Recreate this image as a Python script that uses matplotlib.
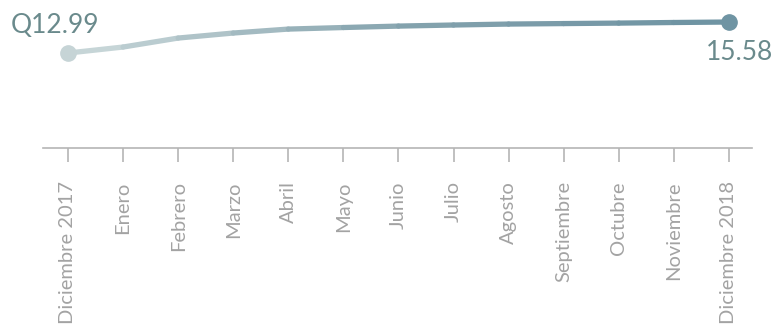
import numpy as np
import matplotlib
matplotlib.use("Agg")
import matplotlib.pyplot as plt
from matplotlib.collections import LineCollection
from matplotlib.colors import LinearSegmentedColormap

plt.rcParams['font.family'] = ['Lato', 'DejaVu Sans']

# Data
months = ["Diciembre 2017", "Enero", "Febrero", "Marzo", "Abril", "Mayo", "Junio",
          "Julio", "Agosto", "Septiembre", "Octubre", "Noviembre", "Diciembre 2018"]
values = [12.99, 13.49, 14.24, 14.66, 14.99, 15.12, 15.24,
          15.33, 15.41, 15.45, 15.49, 15.54, 15.58]
first_label = "Q12.99"
last_label = "15.58"

x = np.arange(len(months))
y = np.array(values)

fig = plt.figure(figsize=(7.76, 3.28), dpi=100)
ax = fig.add_axes([0.0554, 0.549, 0.9137, 0.451])
ax.set_xlim(-0.454, 12.42)
ax.set_ylim(5.06, 17.42)

# gradient line
cmap = LinearSegmentedColormap.from_list("g", ["#c6d5d7", "#85a3ae", "#6f94a3"])
pts = np.column_stack([x, y]).reshape(-1, 1, 2)
segs = np.concatenate([pts[:-1], pts[1:]], axis=1)
lc = LineCollection(segs, colors=cmap(np.linspace(0, 1, len(segs))),
                    linewidths=3.8, capstyle='round', joinstyle='round')
ax.add_collection(lc)
ax.plot(x[0], y[0], 'o', color="#c6d4d6", markersize=11, zorder=3)
ax.plot(x[-1], y[-1], 'o', color="#6f94a3", markersize=11, zorder=3)

ax.annotate(first_label, (x[0], y[0]), xytext=(-57, 20), textcoords='offset pixels',
            ha='left', va='baseline', fontsize=19, color="#6a8a8c")
ax.annotate(last_label, (x[-1], y[-1]), xytext=(44, -38), textcoords='offset pixels',
            ha='right', va='baseline', fontsize=19, color="#6a8a8c")

# axes styling
for s in ['top', 'left', 'right']:
    ax.spines[s].set_visible(False)
ax.spines['bottom'].set_color("#b5b5b5")
ax.spines['bottom'].set_linewidth(1.2)
ax.set_yticks([])
ax.set_xticks(x)
ax.set_xticklabels(months, rotation=90, fontsize=14.5, color="#a3a3a3")
ax.tick_params(axis='x', length=10, width=1.2, color="#b5b5b5", pad=14)

fig.savefig("out.png", dpi=100)
